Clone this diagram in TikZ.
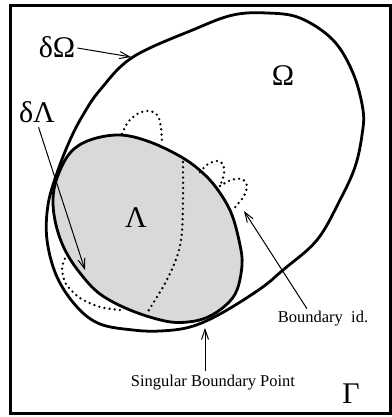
\documentclass[tikz,border=0pt]{standalone}
\usepackage{fontspec}
\setmainfont{Liberation Serif}
\usetikzlibrary{arrows.meta}
\begin{document}
\begin{tikzpicture}[x=1pt,y=-1pt,
  bound/.style={line width=2.8pt, line join=round},
  dotline/.style={line width=2.6pt, line cap=round, dash pattern=on 0pt off 5.2pt},
  greek/.style={font=\fontsize{30}{36}\selectfont, inner sep=0pt, anchor=base},
  small/.style={font=\fontsize{16.5}{20}\selectfont, inner sep=0pt, anchor=base},
  pointer/.style={line width=1pt, -{Straight Barb[length=10pt,width=7pt]}}]
\useasboundingbox (0,0) rectangle (391,417);
% frame
\draw[line width=3pt] (10,6) rectangle (390.5,413.5);
% Omega
\draw[bound, fill=white] plot[smooth cycle, tension=0.6] coordinates {
  (267,13) (300,18) (333,40) (353,73) (363,110) (362,135) (355,167) (340,200)
  (317,240) (283,270) (260,289) (220,314) (190,327) (160,331) (133,330)
  (100,324) (77,307) (57,277) (47,240) (48,205) (57,173) (70,140) (83,115)
  (100,90) (133,57) (195,29) (233,15)};
% Lambda
\draw[bound, fill=black!15] plot[smooth cycle, tension=0.6] coordinates {
  (120,135) (150,142) (183,158) (205,175) (220,193) (232,215) (240,245)
  (242,265) (237,290) (226,305) (208,317) (188,322) (165,321) (130,310)
  (100,294) (80,273) (65,250) (56,225) (53,200) (57,178) (70,153) (90,140)};
% dotted curves
\draw[dotline] plot[smooth] coordinates {(122,134) (128,122) (139,113) (150,111) (158,116) (161,128) (162,143)};
\draw[dotline] plot[smooth] coordinates {(183,162) (183,200) (182,232) (179,250) (173,267) (163,287) (147,313)};
\draw[dotline] plot[smooth] coordinates {(200,172) (208,164) (217,161) (223,164) (224,174) (220,186)};
\draw[dotline] plot[smooth] coordinates {(220,186) (231,180) (242,179) (247,186) (244,196) (237,205) (232,211)};
\draw[dotline] plot[smooth] coordinates {(67,254) (62,268) (66,284) (80,298) (100,307) (120,310)};
% labels
\node[greek] (lO) at (57,58) {δΩ};
\node[greek] (lL) at (37,122) {δΛ};
\node[greek] (Om) at (283,86) {Ω};
\node[greek] (La) at (136,227) {Λ};
\node[greek] (Ga) at (351,403) {Γ};
\node[small] (lB) at (323,322) {Boundary\ \ id.};
\node[small] (lS) at (213,386) {Singular Boundary Point};
% arrow tips
\coordinate (tO) at (131,57);
\coordinate (tL) at (85,270);
\coordinate (tB) at (244,211);
\coordinate (tS) at (205,328);
\draw[pointer, shorten <=2pt] (lO.east) -- (tO);
\draw[pointer, shorten <=5pt] (lL.south) -- (tL);
\draw[pointer, shorten <=2pt] ([xshift=-15pt]lB.north) -- (tB);
\draw[pointer, shorten <=3pt] ([xshift=-8pt]lS.north) -- (tS);
\end{tikzpicture}
\end{document}
